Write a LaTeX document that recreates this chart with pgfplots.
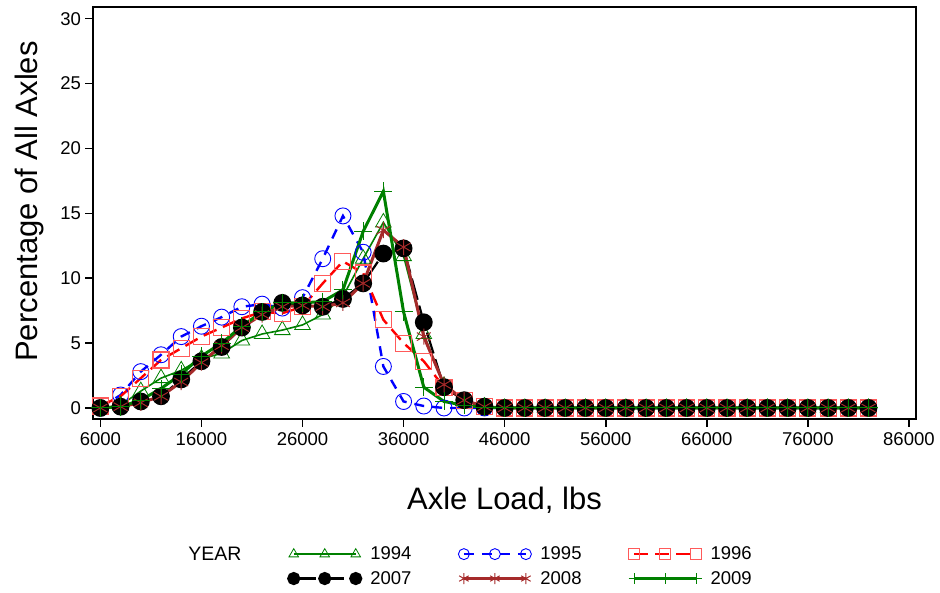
\documentclass[border=0pt]{standalone}
\usepackage{fontspec}
\setmainfont{Liberation Sans}
\usepackage{pgfplots}
\pgfplotsset{compat=1.18}
\usepackage{pgfplotstable}

\definecolor{cgreen}{HTML}{008000}
\definecolor{cblue}{HTML}{0000FF}
\definecolor{cred}{HTML}{FF0000}
\definecolor{cpink}{HTML}{FF5A5A}
\definecolor{cbrown}{HTML}{A52A2A}

\pgfplotstableread{
x     y94  y95  y96  y07  y08  y09
6000  0.0  0.0  0.15 0.0  0.0  0.0
8000  0.2  1.0  0.9  0.1  0.1  0.1
10000 1.3  2.8  2.3  0.5  0.4  0.6
12000 2.3  4.1  3.7  0.9  0.9  1.5
14000 2.9  5.5  4.6  2.2  2.0  2.6
16000 3.8  6.3  5.5  3.6  3.5  4.0
18000 4.2  7.0  6.2  4.7  4.8  5.0
20000 5.2  7.8  6.9  6.2  6.2  6.3
22000 5.7  8.0  7.4  7.4  7.2  7.4
24000 6.0  7.7  7.3  8.1  7.8  8.1
26000 6.4  8.5  7.8  7.9  7.9  8.1
28000 7.2  11.5 9.6  7.8  7.8  8.2
30000 8.6  14.8 11.3 8.4  8.1  9.1
32000 11.5 12.0 10.4 9.6  9.6  13.6
34000 14.3 3.2  6.8  11.9 13.7 16.7
36000 11.7 0.5  5.0  12.3 12.4 7.4
38000 5.7  0.15 3.6  6.6  5.5  1.6
40000 1.7  0.0  1.6  1.6  1.8  0.5
42000 0.5  0.0  0.6  0.6  0.6  0.2
44000 0.1  0.0  0.1  0.1  0.1  0.05
46000 0.0  0.0  0.0  0.0  0.0  0.0
48000 0.0  0.0  0.0  0.0  0.0  0.0
50000 0.0  0.0  0.0  0.0  0.0  0.0
52000 0.0  0.0  0.0  0.0  0.0  0.0
54000 0.0  0.0  0.0  0.0  0.0  0.0
56000 0.0  0.0  0.0  0.0  0.0  0.0
58000 0.0  0.0  0.0  0.0  0.0  0.0
60000 0.0  0.0  0.0  0.0  0.0  0.0
62000 0.0  0.0  0.0  0.0  0.0  0.0
64000 0.0  0.0  0.0  0.0  0.0  0.0
66000 0.0  0.0  0.0  0.0  0.0  0.0
68000 0.0  0.0  0.0  0.0  0.0  0.0
70000 0.0  0.0  0.0  0.0  0.0  0.0
72000 0.0  0.0  0.0  0.0  0.0  0.0
74000 0.0  0.0  0.0  0.0  0.0  0.0
76000 0.0  0.0  0.0  0.0  0.0  0.0
78000 0.0  0.0  0.0  0.0  0.0  0.0
80000 0.0  0.0  0.0  0.0  0.0  0.0
82000 0.0  0.0  0.0  0.0  0.0  0.0
}\data

\begin{document}
\begin{tikzpicture}
\useasboundingbox (0,0) rectangle (940pt,592pt);
\begin{axis}[
  at={(93pt,173pt)}, anchor=south west,
  width=823pt, height=412pt, scale only axis,
  xmin=5270, xmax=86700, ymin=-0.85, ymax=30.9,
  xtick={6000,16000,26000,36000,46000,56000,66000,76000,86000},
  ytick={0,5,10,15,20,25,30},
  xtick pos=bottom, ytick pos=left,
  tick align=outside, major tick length=7.5pt,
  tick style={black, line width=1.6pt},
  axis line style={line width=2.4pt},
  /pgf/number format/assume math mode=true,
  /pgf/number format/1000 sep={},
  scaled x ticks=false,
  tick label style={font=\fontsize{18.5}{22}\selectfont},
  xticklabel style={yshift=-3pt},
  yticklabel style={xshift=-1pt},
  xlabel={Axle Load, lbs},
  ylabel={Percentage of All Axles},
  label style={font=\fontsize{31}{37}\selectfont},
  xlabel style={at={(axis description cs:0.5,-0.197)}, anchor=center},
  ylabel style={at={(axis description cs:-0.0766,0.528)}, anchor=center},
  clip=false,
  legend columns=3,
  legend cell align=left,
  legend image code/.code={\draw[#1, mark size=5.5pt] plot coordinates {(0pt,0pt) (31pt,0pt) (62pt,0pt)};},
  legend style={at={(axis description cs:0.237,-0.31)}, anchor=north west,
    draw=none, fill=none, inner sep=0pt, row sep=10pt,
    nodes={inner sep=0pt, anchor=west, font=\fontsize{18.5}{22}\selectfont},
    /tikz/every odd column/.append style={column sep=9pt},
    /tikz/every even column/.append style={column sep=47pt}},
]
\addplot[cgreen, line width=1.6pt, mark=triangle, mark size=9pt, mark options={solid, line width=0.8pt}]
  table[x=x, y=y94] {\data};
\addlegendentry{1994}
\addplot[cblue, line width=2.4pt, dash pattern=on 10pt off 8pt, mark=o, mark size=8pt, mark options={solid, line width=0.9pt}]
  table[x=x, y=y95] {\data};
\addlegendentry{1995}
\addplot[cred, line width=2.4pt, dash pattern=on 14pt off 7pt, mark=square, mark size=8pt, mark options={solid, draw=cpink, line width=1.1pt}]
  table[x=x, y=y96] {\data};
\addlegendentry{1996}
\addplot[black, line width=2.2pt, dash pattern=on 22pt off 6pt, mark=*, mark size=7.8pt, mark options={solid}]
  table[x=x, y=y07] {\data};
\addlegendentry{2007}
\addplot[cbrown, line width=3pt, mark=asterisk, mark size=8pt, mark options={solid, line width=1pt}]
  table[x=x, y=y08] {\data};
\addlegendentry{2008}
\addplot[cgreen, line width=3pt, mark=+, mark size=9pt, mark options={solid, line width=1pt}]
  table[x=x, y=y09] {\data};
\addlegendentry{2009}
\end{axis}
\node[font=\fontsize{19.5}{23}\selectfont] at (215pt,38pt) {YEAR};
\end{tikzpicture}
\end{document}
